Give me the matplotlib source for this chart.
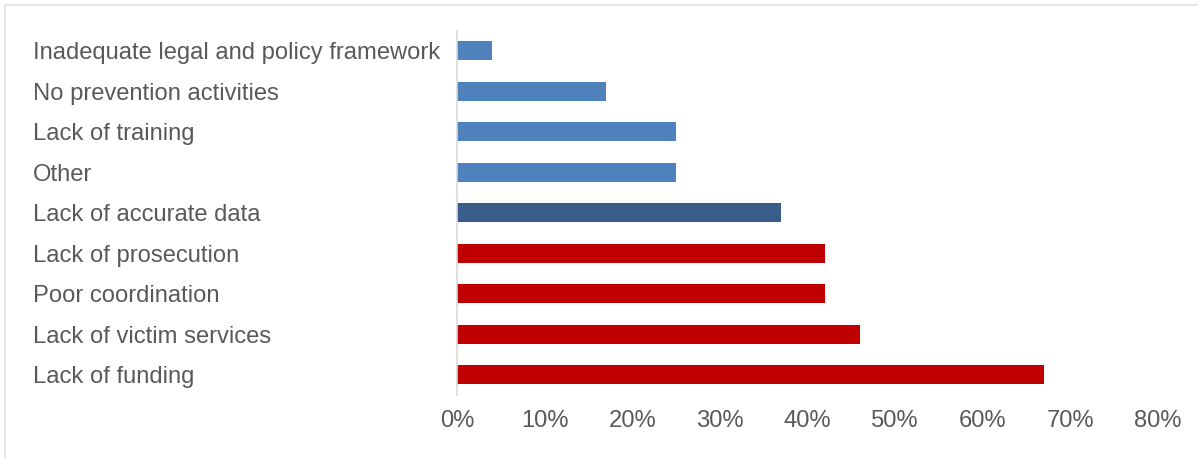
import matplotlib
matplotlib.use("Agg")
import matplotlib.pyplot as plt
from matplotlib.patches import Rectangle
from matplotlib.ticker import FuncFormatter

# data, top to bottom
categories = [
    "Inadequate legal and policy framework",
    "No prevention activities",
    "Lack of training",
    "Other",
    "Lack of accurate data",
    "Lack of prosecution",
    "Poor coordination",
    "Lack of victim services",
    "Lack of funding",
]
shares = [4, 17, 25, 25, 37, 42, 42, 46, 67]
groups = ["light", "light", "light", "light", "dark", "red", "red", "red", "red"]

colors = {"light": "#4f81bd", "dark": "#385d8a", "red": "#c00000"}
text_color = "#595959"

plt.rcParams["font.family"] = ["Liberation Sans", "DejaVu Sans"]

W, H = 1198, 459
fig = plt.figure(figsize=(W / 100, H / 100), dpi=100)

x0, x1 = 457, 1158
y_top, y_bot = 30.5, 395
ax = fig.add_axes([x0 / W, 1 - y_bot / H, (x1 - x0) / W, (y_bot - y_top) / H])

ypos = list(range(len(categories)))
ax.barh(ypos, shares, height=0.48, color=[colors[g] for g in groups])

ax.set_ylim(len(categories) - 0.5, -0.5)
ax.set_xlim(0, 80)
ax.set_xticks(range(0, 81, 10))
ax.xaxis.set_major_formatter(FuncFormatter(lambda v, p: f"{v:.0f}%"))

ax.set_yticks(ypos)
ax.set_yticklabels(categories, ha="left")
pad_pt = (x0 - 33) * 72 / 100
ax.tick_params(axis="y", length=0, pad=pad_pt, labelsize=17.1, labelcolor=text_color)
ax.tick_params(axis="x", length=0, pad=11, labelsize=17.1, labelcolor=text_color)

for s in ["top", "right", "bottom"]:
    ax.spines[s].set_visible(False)
ax.spines["left"].set_color("#d9d9d9")
ax.spines["left"].set_linewidth(1.2)

# light frame around the chart area
fig.patches.append(Rectangle((5 / W, -0.1), 1.2, 1 - 5 / H + 0.1,
                             transform=fig.transFigure, fill=False,
                             edgecolor="#e0e0e0", linewidth=1.2))

fig.savefig("out.png", dpi=100)
